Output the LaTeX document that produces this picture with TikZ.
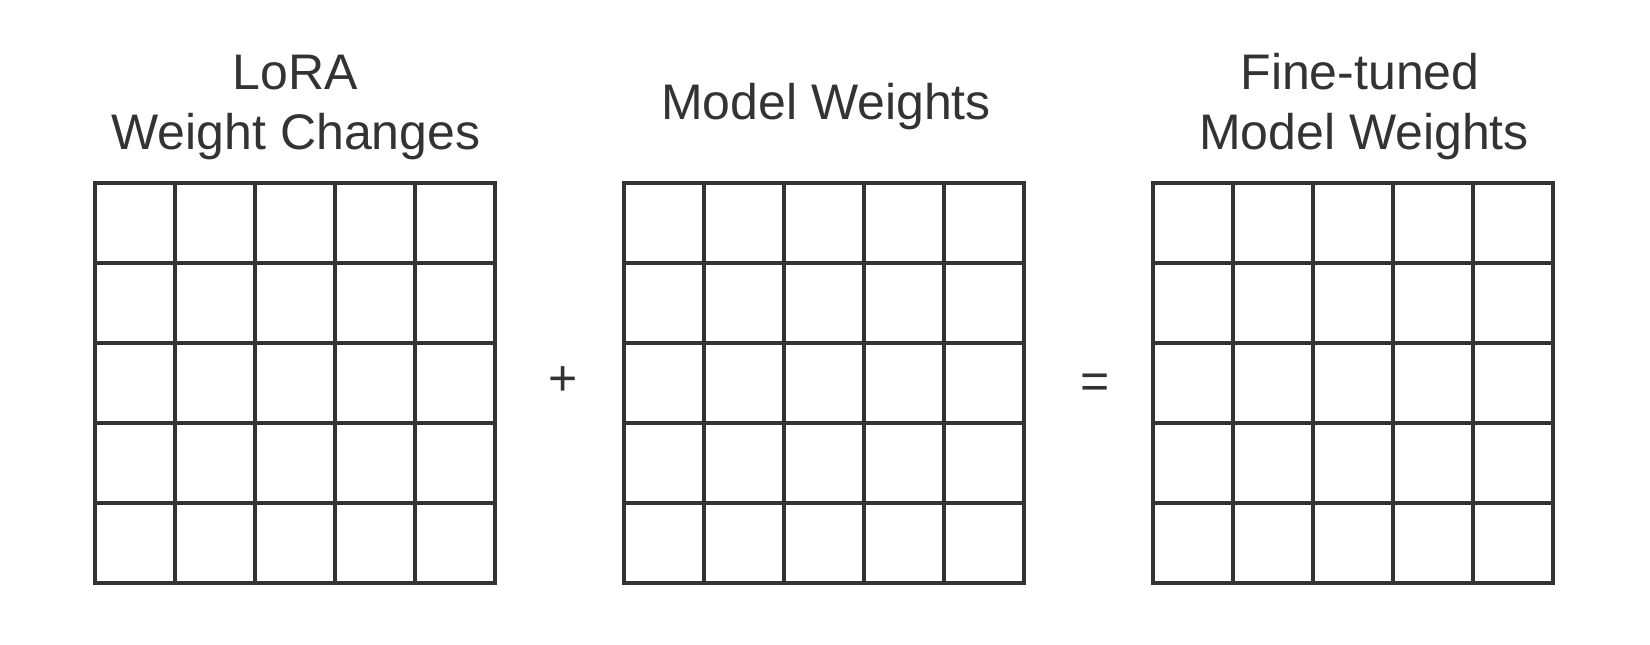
\documentclass[tikz,border=0pt]{standalone}
\usepackage{fontspec}
\setmainfont{Liberation Sans}
\definecolor{ink}{HTML}{333333}
\begin{document}
\begin{tikzpicture}[x=0.5pt,y=-0.5pt,
  gridline/.style={draw=ink,line width=1.6pt},
  title/.style={text=ink,font=\fontsize{25}{30}\selectfont,anchor=base,inner sep=0pt},
  op/.style={text=ink,font=\fontsize{25}{30}\selectfont,inner sep=0pt}]
\useasboundingbox[fill=white] (0,0) rectangle (1650,644);
\foreach \gx in {95,624,1153}{
  \foreach \i in {0,...,5}{
    \draw[gridline,line cap=rect] (\gx+\i*80,183) -- (\gx+\i*80,583);
    \draw[gridline,line cap=rect] (\gx,183+\i*80) -- (\gx+400,183+\i*80);
  }
}
\node[title] (t1a) at (295,89) {LoRA};
\node[title] (t1b) at (296,149) {Weight Changes};
\node[title] (t2) at (826,119) {Model Weights};
\node[title] (t3a) at (1360,89) {Fine-tuned};
\node[title] (t3b) at (1364,149) {Model Weights};
\node[op] (plus) at (563,381) {+};
\node[op] (eq) at (1095,386) {=};
\end{tikzpicture}
\end{document}
